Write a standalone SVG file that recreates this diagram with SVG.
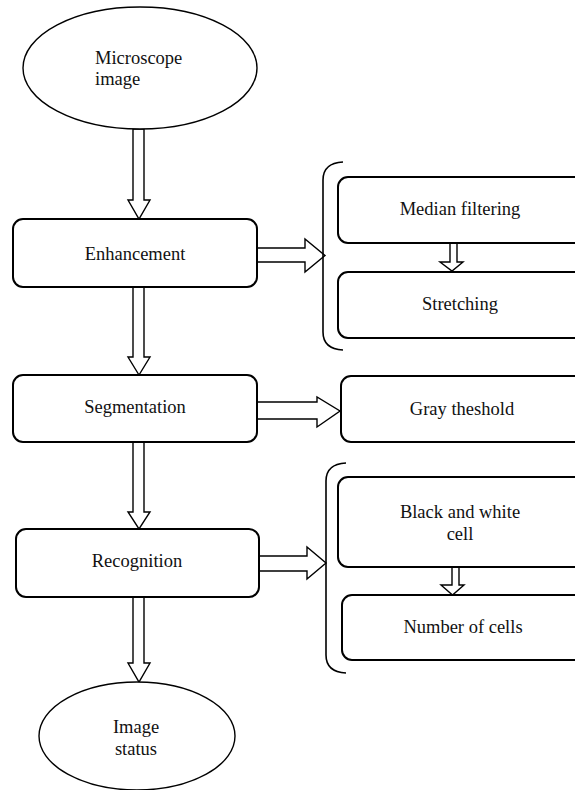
<svg xmlns="http://www.w3.org/2000/svg" width="575" height="790" viewBox="0 0 575 790">
<style>
.box{fill:#fff;stroke:#000;stroke-width:2}
.ell{fill:#fff;stroke:#000;stroke-width:1.4}
.arr{fill:#fff;stroke:#000;stroke-width:1.4;stroke-linejoin:miter}
.br{fill:none;stroke:#000;stroke-width:1.6}
text{font-family:'Liberation Serif','Times New Roman',serif;font-size:18.5px;fill:#111}
.c{text-anchor:middle}
</style>
<rect width="575" height="790" fill="#fff"/>
<g id="connectors">
<path class="arr" d="M133,129 V200 H128 L139,219 L150,200 H144 V129 Z"/>
<path class="arr" d="M133,287 V357 H128 L139,375 L150,357 H144 V287 Z"/>
<path class="arr" d="M133,442 V512 H128 L139,529 L150,512 H144 V442 Z"/>
<path class="arr" d="M133,597 V663 H128 L139,682 L150,663 H144 V597 Z"/>
<path class="arr" d="M257,248 H305 V239 L325,255.5 L305,272 V262 H257 Z"/>
<path class="arr" d="M257,402 H317 V397 L340,411 L317,427 V419 H257 Z"/>
<path class="arr" d="M259,556 H307 V547 L326,563 L307,579 V571 H259 Z"/>
<path class="arr" d="M450,243 V262 H440 L452,271 L463,262 H457 V243 Z"/>
<path class="arr" d="M452,567 V585 H441 L452.5,595 L464,585 H459 V567 Z"/>
<path class="br" d="M343,162 Q323,163 323,180 V332 Q323,349 343,350"/>
<path class="br" d="M346,463 Q326,464 326,481 V655 Q326,672 346,673"/>
</g>
<g id="microscope-image">
<ellipse class="ell" cx="140" cy="68" rx="117" ry="61"/>
<text x="95" y="64">Microscope</text>
<text x="95" y="85">image</text>
</g>
<g id="enhancement">
<rect class="box" x="13" y="219" width="244" height="68" rx="10"/>
<text class="c" x="135" y="260">Enhancement</text>
</g>
<g id="median-filtering">
<rect class="box" x="338" y="177" width="250" height="66" rx="10"/>
<text class="c" x="460" y="215">Median filtering</text>
</g>
<g id="stretching">
<rect class="box" x="338" y="272" width="250" height="66" rx="10"/>
<text class="c" x="460" y="310">Stretching</text>
</g>
<g id="segmentation">
<rect class="box" x="13" y="375" width="244" height="67" rx="10"/>
<text class="c" x="135" y="413">Segmentation</text>
</g>
<g id="gray-threshold">
<rect class="box" x="341" y="376" width="247" height="66" rx="10"/>
<text class="c" x="462" y="415">Gray theshold</text>
</g>
<g id="recognition">
<rect class="box" x="16" y="529" width="243" height="68" rx="10"/>
<text class="c" x="137" y="567">Recognition</text>
</g>
<g id="black-white-cell">
<rect class="box" x="338" y="477" width="250" height="90" rx="10"/>
<text class="c" x="460" y="518">Black and white</text>
<text class="c" x="460" y="540">cell</text>
</g>
<g id="number-of-cells">
<rect class="box" x="342" y="595" width="246" height="65" rx="10"/>
<text class="c" x="463" y="633">Number of cells</text>
</g>
<g id="image-status">
<ellipse class="ell" cx="137" cy="736" rx="98" ry="54"/>
<text class="c" x="136" y="733">Image</text>
<text class="c" x="136" y="755">status</text>
</g>
</svg>
